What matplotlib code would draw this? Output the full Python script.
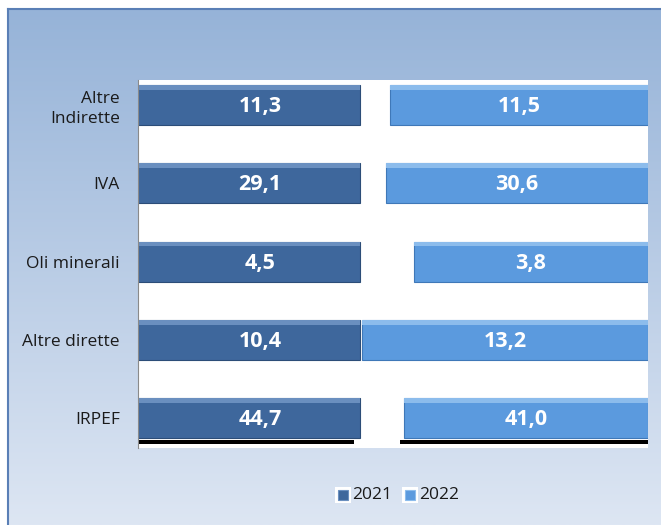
import numpy as np
import matplotlib.pyplot as plt
from matplotlib.patches import Rectangle
from matplotlib.colors import LinearSegmentedColormap

plt.rcParams['font.family'] = ['Open Sans', 'DejaVu Sans']

categories = ['Altre\nIndirette', 'IVA', 'Oli minerali', 'Altre dirette', 'IRPEF']
values_2021 = [11.3, 29.1, 4.5, 10.4, 44.7]
values_2022 = [11.5, 30.6, 3.8, 13.2, 41.0]
# bar extents as drawn in the original (axis units 0-100)
end_2021 = [43.5, 43.5, 43.5, 43.5, 43.5]
start_2022 = [49.4, 48.6, 54.1, 44.0, 52.2]
end_2022 = [100, 100, 100, 100, 100]

W, H = 661, 525
fig = plt.figure(figsize=(W / 100, H / 100), dpi=100)
fig.patch.set_facecolor('white')

# chart area background with vertical gradient
bg = fig.add_axes([8 / W, 0, 1 - 8 / W, 1 - 9 / H])
grad = LinearSegmentedColormap.from_list('bg', ['#dde6f3', '#96b3d8'])
bg.imshow(np.linspace(0, 1, 256).reshape(-1, 1), aspect='auto', cmap=grad,
          origin='lower', extent=[0, 1, 0, 1])
bg.set_xticks([])
bg.set_yticks([])
for side in ['top', 'left']:
    bg.spines[side].set_color('#5a7fb6')
    bg.spines[side].set_linewidth(1.5)
for side in ['right', 'bottom']:
    bg.spines[side].set_visible(False)

ax = fig.add_axes([138 / W, 1 - 448 / H, (648 - 138) / W, (448 - 80) / H])
ax.set_facecolor('white')
ax.set_xlim(0, 100)
ax.set_ylim(4.38, -0.32)
y = np.arange(len(categories))
h = 0.51

dark, dark_hi, dark_lo = '#3e679c', '#6a8fbf', '#2c4d78'
light, light_hi, light_lo = '#5b9ade', '#8cbcec', '#3f78b8'

# shadow under the bottom bars
ax.barh(y[-1] + h / 2 + 0.05, end_2021[-1] - 1.2, left=0, height=0.05, color='black')
ax.barh(y[-1] + h / 2 + 0.05, end_2022[-1] - start_2022[-1] + 0.8, left=start_2022[-1] - 0.8,
        height=0.05, color='black')

ax.barh(y, end_2021, left=0, height=h, color=dark, edgecolor=dark_lo, linewidth=0.8)
ax.barh(y, np.array(end_2022) - np.array(start_2022), left=start_2022, height=h,
        color=light, edgecolor=light_lo, linewidth=0.8)
# bevel highlights
ax.barh(y - h / 2 + 0.03, end_2021, left=0, height=0.06, color=dark_hi, linewidth=0)
ax.barh(y - h / 2 + 0.03, np.array(end_2022) - np.array(start_2022), left=start_2022,
        height=0.06, color=light_hi, linewidth=0)

for i in range(len(categories)):
    ax.text(end_2021[i] / 2 + 2.2, y[i] + 0.02, f'{values_2021[i]:.1f}'.replace('.', ','),
            ha='center', va='center', color='white', fontsize=15.5, fontweight='bold')
    ax.text((start_2022[i] + end_2022[i]) / 2, y[i] + 0.02, f'{values_2022[i]:.1f}'.replace('.', ','),
            ha='center', va='center', color='white', fontsize=15.5, fontweight='bold')

ax.set_yticks(y)
ax.set_yticklabels(categories, fontsize=12.5, color='#1a1a1a', linespacing=1.35)
ax.tick_params(axis='y', length=0, pad=13)
ax.set_xticks([])
for side in ['top', 'right', 'bottom']:
    ax.spines[side].set_visible(False)
ax.spines['left'].set_color('#8a8a8a')

# legend
for x0, label, col, hi in [(343, '2021', dark, dark_hi), (410, '2022', light, light_hi)]:
    fig.patches.append(Rectangle(((x0 - 8) / W, 1 - 503 / H), 16 / W, 16 / H,
                                 transform=fig.transFigure, facecolor='white', edgecolor='none'))
    fig.patches.append(Rectangle(((x0 - 5) / W, 1 - 500 / H), 10 / W, 10 / H,
                                 transform=fig.transFigure, facecolor=col, edgecolor=hi, lw=0.8))
    fig.text((x0 + 9) / W, 1 - 495 / H, label, fontsize=12.5, va='center', ha='left',
             color='#1a1a1a')

fig.savefig('out.png', dpi=100)
